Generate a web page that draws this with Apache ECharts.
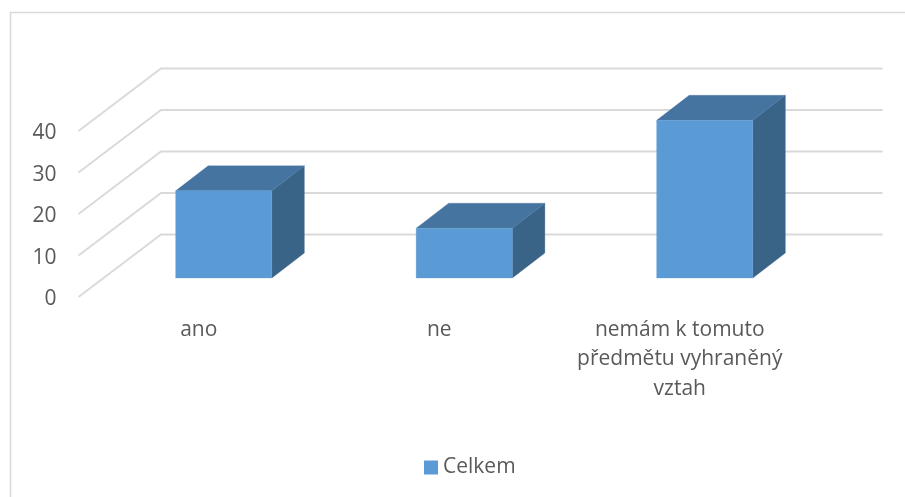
<!DOCTYPE html>
<html>
<head>
<meta charset="utf-8">
<style>html,body{margin:0;padding:0;background:#fff}#c{width:905px;height:497px}</style>
<script src="https://cdn.jsdelivr.net/npm/echarts@6/dist/echarts.min.js"></script>
</head>
<body>
<div id="c"></div>
<script>
const categories = ['ano', 'ne', 'nemám k tomuto\npředmětu vyhraněný\nvztah'];
const seriesName = 'Celkem';
const values = [21, 12, 38];
const ticks = [0, 10, 20, 30, 40];

const textColor = '#595959';
const font = 'Open Sans';
const wallDx = 82.5, wallDy = -62.5;
const barDx = 25, barDy = -19;
const depthDx = 32.5, depthDy = -25;

const chart = echarts.init(document.getElementById('c'), null, {renderer: 'canvas'});
chart.setOption({
  animation: false,
  backgroundColor: '#fff',
  color: ['#5B9BD5'],
  textStyle: {fontFamily: font},
  grid: {left: 78.5, top: 131, width: 721.5, height: 166},
  legend: {
    data: [seriesName], left: 424, top: 457, icon: 'rect',
    itemWidth: 14, itemHeight: 14, itemGap: 6,
    textStyle: {color: textColor, fontSize: 21, fontFamily: font, padding: [0, 0, 0, 0]},
    padding: 0
  },
  xAxis: {
    type: 'category', data: categories,
    axisLine: {show: false}, axisTick: {show: false}, splitLine: {show: false},
    axisLabel: {
      interval: 0, color: textColor, fontSize: 21, fontFamily: font,
      lineHeight: 29.5, margin: 18, align: 'center'
    }
  },
  yAxis: {
    type: 'value', min: 0, max: 40, interval: 10,
    axisLine: {show: false}, axisTick: {show: false}, splitLine: {show: false},
    axisLabel: {color: textColor, fontSize: 21, fontFamily: font, margin: 22, verticalAlign: 'top', lineHeight: 5}
  },
  graphic: [
    {type: 'polyline', silent: true, z: 0,
     shape: {points: [[10.5, 497], [10.5, 12.5], [905, 12.5]]},
     style: {fill: null, stroke: '#D9D9D9', lineWidth: 1.5}}
  ],
  series: [
    {
      type: 'custom', name: '_walls', silent: true, z: 1, coordinateSystem: 'cartesian2d',
      data: ticks.map(t => [0, t]),
      encode: {x: 0, y: 1},
      renderItem(params, api) {
        const cs = params.coordSys;
        const y = api.coord([0, api.value(1)])[1];
        return {
          type: 'polyline',
          shape: {points: [
            [cs.x, y],
            [cs.x + wallDx, y + wallDy],
            [cs.x + cs.width + wallDx, y + wallDy]
          ]},
          style: {fill: null, stroke: '#D9D9D9', lineWidth: 1.8}
        };
      }
    },
    {
      type: 'custom', name: seriesName, z: 2, coordinateSystem: 'cartesian2d',
      data: values.map((v, i) => [i, v]),
      encode: {x: 0, y: 1},
      renderItem(params, api) {
        const i = api.value(0), v = api.value(1);
        const top = api.coord([i, v]);
        const base = api.coord([i, 0]);
        const w = api.size([1, 0])[0] * 0.4;
        const x0 = top[0] - w / 2 + barDx, x1 = x0 + w;
        const yT = top[1] + barDy, yB = base[1] + barDy;
        const front = '#5B9BD5', topC = '#44749F', side = '#3A6388';
        const poly = (pts, c) => ({type: 'polygon', shape: {points: pts},
          style: {fill: c, stroke: c, lineWidth: 0.3}});
        return {type: 'group', children: [
          poly([[x1, yT], [x1 + depthDx, yT + depthDy], [x1 + depthDx, yB + depthDy], [x1, yB]], side),
          poly([[x0, yT], [x0 + depthDx, yT + depthDy], [x1 + depthDx, yT + depthDy], [x1, yT]], topC),
          poly([[x0, yT], [x1, yT], [x1, yB], [x0, yB]], front)
        ]};
      }
    }
  ]
});
</script>
</body>
</html>
